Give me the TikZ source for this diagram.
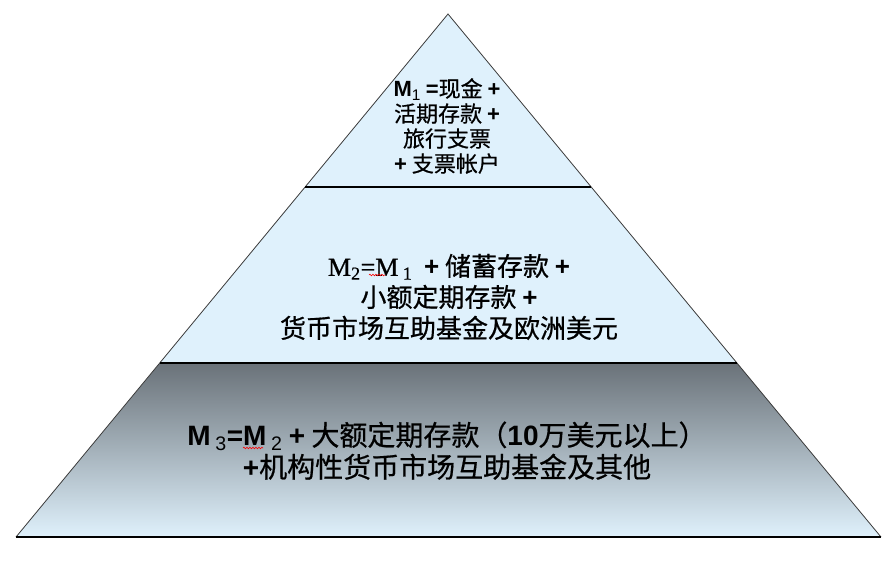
\documentclass[tikz,border=0pt]{standalone}
\usepackage{fontspec}
\setmainfont{Liberation Sans}
\newfontfamily\cjk[FakeBold=0.6]{Noto Sans CJK SC}
\newfontfamily\latb{Liberation Sans Bold}
\newfontfamily\latr{Liberation Sans}
\newfontfamily\serm[FakeBold=0.8]{Liberation Serif}
\usetikzlibrary{decorations.pathmorphing}
\definecolor{pyrlight}{HTML}{DFF1FC}
\definecolor{pyrdark}{HTML}{6A7279}
\definecolor{pyredge}{HTML}{3A3A3A}
\newcommand\pl{{\latb +}}
\tikzset{
  bandtext/.style={align=center, text=black, inner sep=0pt},
  bigtext/.style={bandtext, font=\fontsize{28}{30}\selectfont\cjk, text height=21pt, text depth=4pt},
  divline/.style={black, line width=1.3pt},
  sideline/.style={pyredge, line width=0.8pt},
  spell/.style={red, line width=0.6pt, decorate, decoration={snake, amplitude=0.8pt, segment length=3pt}}
}
\begin{document}
\begin{tikzpicture}[x=1pt,y=-1pt]
\useasboundingbox (0,0) rectangle (892,566);
\coordinate (apex) at (448,14);
\coordinate (bl) at (16,537);
\coordinate (br) at (881,537);
\coordinate (l1) at (305,187);
\coordinate (r1) at (591,187);
\coordinate (l2) at (160,363);
\coordinate (r2) at (737,363);
% fills
\fill[pyrlight] (apex) -- (r1) -- (l1) -- cycle;
\fill[pyrlight] (l1) -- (r1) -- (r2) -- (l2) -- cycle;
\shade[top color=pyrdark, bottom color=pyrlight] (l2) -- (r2) -- (br) -- (bl) -- cycle;
% outlines
\draw[sideline] (bl) -- (apex) -- (br);
\draw[divline] (l1) -- (r1);
\draw[divline] (l2) -- (r2);
\draw[divline] (bl) -- (br);
% texts
\node[bandtext, font=\fontsize{22}{25}\selectfont\cjk] (top) at (447,126)
  {{\latb M}{\latr\textsubscript{1}} {\latb =}现金 \pl\\
   活期存款 \pl\\
   旅行支票\\
   \pl{} 支票帐户};
\node[bandtext, font=\fontsize{26}{31}\selectfont\cjk] (mid) at (449,297)
  {{\serm M\textsubscript{2}=M\,\textsubscript{1}}\ \ \pl{} 储蓄存款 \pl\\
   小额定期存款 \pl\\
   货币市场互助基金及欧洲美元};
\node[bigtext] (bot1) at (447,437)
  {{\latb M}\,{\latr\textsubscript{3}}{\latb =M}\,{\latr\textsubscript{2}} \pl{} 大额定期存款（{\latb 10}万美元以上）};
\node[bigtext] (bot2) at (447,469)
  {\pl 机构性货币市场互助基金及其他};
\draw[spell] (369,275) -- (385,275);
\draw[spell] (243,448) -- (263,448);
\end{tikzpicture}
\end{document}
